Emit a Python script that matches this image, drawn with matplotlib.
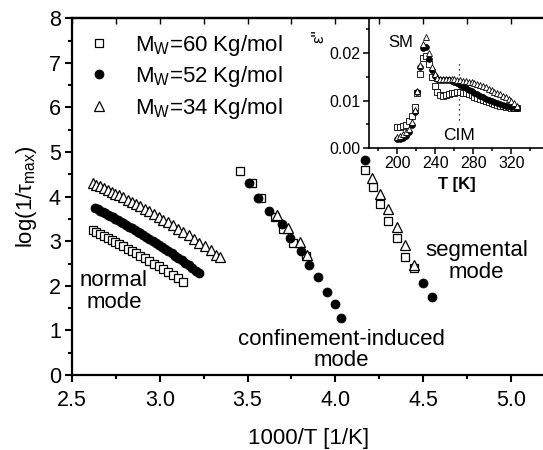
import matplotlib
matplotlib.use("Agg")
import matplotlib.pyplot as plt
from matplotlib.ticker import MultipleLocator

plt.rcParams['font.family'] = ['Liberation Sans', 'DejaVu Sans']
plt.rcParams['mathtext.fontset'] = 'custom'
plt.rcParams['mathtext.rm'] = 'Liberation Sans'
plt.rcParams['mathtext.it'] = 'Liberation Sans:italic'
plt.rcParams['mathtext.bf'] = 'Liberation Sans:bold'

# ---------------- main plot data: 1000/T [1/K] vs log(1/tau_max) ----------------
labels = [r"M$_\mathrm{W}$=60 Kg/mol", r"M$_\mathrm{W}$=52 Kg/mol", r"M$_\mathrm{W}$=34 Kg/mol"]

# normal mode
nm60_x = [2.618, 2.639, 2.660, 2.681, 2.703, 2.725, 2.747, 2.770, 2.793, 2.817, 2.841,
          2.865, 2.890, 2.915, 2.941, 2.967, 2.994, 3.021, 3.049, 3.077, 3.106, 3.135]
nm60_y = [3.250, 3.208, 3.166, 3.123, 3.078, 3.032, 2.986, 2.937, 2.888, 2.836, 2.784,
          2.730, 2.674, 2.618, 2.558, 2.498, 2.435, 2.371, 2.304, 2.236, 2.165, 2.093]
nm52_x = [2.632, 2.646, 2.660, 2.674, 2.688, 2.703, 2.717, 2.732, 2.747, 2.762, 2.778,
          2.793, 2.809, 2.825, 2.841, 2.857, 2.874, 2.890, 2.907, 2.924, 2.941, 2.959,
          2.976, 2.994, 3.012, 3.030, 3.049, 3.067, 3.086, 3.106, 3.125, 3.145, 3.165,
          3.185, 3.205, 3.226]
nm52_y = [3.740, 3.712, 3.684, 3.655, 3.627, 3.595, 3.566, 3.534, 3.502, 3.469, 3.434,
          3.401, 3.364, 3.328, 3.291, 3.254, 3.214, 3.176, 3.135, 3.094, 3.052, 3.007,
          2.964, 2.918, 2.872, 2.825, 2.775, 2.727, 2.676, 2.622, 2.570, 2.514, 2.457,
          2.401, 2.343, 2.282]
nm34_x = [2.618, 2.639, 2.660, 2.681, 2.703, 2.725, 2.747, 2.770, 2.793, 2.817, 2.841,
          2.865, 2.890, 2.915, 2.941, 2.967, 2.994, 3.021, 3.049, 3.077, 3.106, 3.135,
          3.165, 3.195, 3.226, 3.257, 3.289, 3.322, 3.344]
nm34_y = [4.300, 4.264, 4.228, 4.191, 4.151, 4.111, 4.070, 4.026, 3.981, 3.933, 3.884,
          3.834, 3.782, 3.728, 3.671, 3.612, 3.550, 3.487, 3.421, 3.353, 3.281, 3.208,
          3.130, 3.052, 2.969, 2.884, 2.795, 2.701, 2.638]

# confinement-induced mode
cim60_x = [3.457, 3.523, 3.575, 3.656, 3.703, 3.757, 3.833]
cim60_y = [4.58, 4.30, 3.96, 3.54, 3.27, 2.97, 2.67]
cim52_x = [3.510, 3.561, 3.624, 3.694, 3.741, 3.804, 3.851, 3.903, 3.950, 3.998, 4.032]
cim52_y = [4.30, 3.96, 3.68, 3.39, 3.08, 2.78, 2.47, 2.19, 1.87, 1.59, 1.27]
cim34_x = [3.669, 3.732, 3.798, 3.840]
cim34_y = [3.59, 3.29, 2.99, 2.69]

# segmental mode
seg60_x = [4.169, 4.212, 4.254, 4.301, 4.349, 4.398, 4.448]
seg60_y = [4.60, 4.21, 3.83, 3.46, 3.07, 2.65, 2.41]
seg52_x = [4.169, 4.497, 4.548]
seg52_y = [4.82, 2.06, 1.74]
seg34_x = [4.207, 4.254, 4.301, 4.349, 4.398, 4.448]
seg34_y = [4.41, 4.07, 3.72, 3.33, 2.91, 2.47]

# ---------------- inset data: T [K] vs eps'' ----------------
inset_T = [200, 203, 206, 209, 212, 215, 218, 221, 224, 227, 230, 233, 236, 239, 242,
           245, 248, 251, 254, 257, 260, 263, 266, 269, 272, 275, 278, 281, 284, 287,
           290, 293, 296, 299, 302, 305, 308, 311, 314, 317, 320, 323, 326]
eps60 = [0.0045, 0.0045, 0.0046, 0.0049, 0.0056, 0.0068, 0.0086, 0.0115, 0.0155, 0.0190,
         0.0193, 0.0176, 0.0150, 0.0130, 0.0118, 0.0112, 0.0110, 0.0111, 0.0113, 0.0115,
         0.0116, 0.0117, 0.0117, 0.0116, 0.0115, 0.0113, 0.0111, 0.0108, 0.0106, 0.0103,
         0.0101, 0.0099, 0.0097, 0.0094, 0.0092, 0.0091, 0.0089, 0.0088, 0.0087, 0.0086,
         0.0085, 0.0084, 0.0084]
eps52 = [0.0019, 0.0019, 0.0021, 0.0025, 0.0033, 0.0048, 0.0075, 0.0118, 0.0170, 0.0210,
         0.0212, 0.0188, 0.0165, 0.0152, 0.0146, 0.0144, 0.0144, 0.0144, 0.0143, 0.0141,
         0.0139, 0.0136, 0.0133, 0.0130, 0.0127, 0.0123, 0.0120, 0.0116, 0.0113, 0.0110,
         0.0107, 0.0104, 0.0101, 0.0099, 0.0096, 0.0094, 0.0092, 0.0090, 0.0089, 0.0088,
         0.0087, 0.0086, 0.0085]
eps34 = [0.0024, 0.0026, 0.0029, 0.0033, 0.0040, 0.0054, 0.0080, 0.0120, 0.0175, 0.0220,
         0.0234, 0.0200, 0.0170, 0.0155, 0.0148, 0.0146, 0.0146, 0.0146, 0.0146, 0.0145,
         0.0145, 0.0144, 0.0143, 0.0142, 0.0141, 0.0140, 0.0139, 0.0137, 0.0135, 0.0133,
         0.0130, 0.0128, 0.0125, 0.0122, 0.0119, 0.0116, 0.0113, 0.0110, 0.0107, 0.0103,
         0.0100, 0.0094, 0.0089]
cim_marker_T = 265
cim_marker_eps = (0.0059, 0.0179)

# ---------------- figure ----------------
fig = plt.figure(figsize=(5.43, 4.5), dpi=100)
W, H = 543.0, 450.0
ax = fig.add_axes([72 / W, 75 / H, 474 / W, 356.7 / H])

sq = dict(marker='s', ms=5.5, mfc='white', mec='black', mew=0.9, ls='none', zorder=3)
ci = dict(marker='o', ms=6.5, mfc='black', mec='black', mew=0.5, ls='none', zorder=5)
tr = dict(marker='^', ms=6.8, mfc='white', mec='black', mew=0.9, ls='none', zorder=4)

h60, = ax.plot(nm60_x, nm60_y, label=labels[0], **sq)
ax.plot(cim60_x, cim60_y, **sq)
ax.plot(seg60_x, seg60_y, **sq)
h52, = ax.plot(nm52_x, nm52_y, label=labels[1], **ci)
ax.plot(cim52_x, cim52_y, **ci)
ax.plot(seg52_x, seg52_y, **ci)
h34, = ax.plot(nm34_x, nm34_y, label=labels[2], **tr)
ax.plot(cim34_x, cim34_y, **tr)
ax.plot(seg34_x, seg34_y, **tr)

ax.set_xlim(2.5, 5.2)
ax.set_ylim(0, 8)
ax.xaxis.set_minor_locator(MultipleLocator(0.25))
ax.yaxis.set_major_locator(MultipleLocator(1))
ax.yaxis.set_minor_locator(MultipleLocator(0.5))
ax.set_xticks([2.5, 3.0, 3.5, 4.0, 4.5, 5.0])
ax.set_xticklabels(['2.5', '3.0', '3.5', '4.0', '4.5', '5.0'])
ax.tick_params(which='major', direction='out', length=5, width=1.5, labelsize=15.5, pad=3)
ax.tick_params(axis='x', which='major', pad=6)
ax.tick_params(which='minor', direction='out', length=3, width=1.5)
for s in ax.spines.values():
    s.set_linewidth(1.6)
ax.spines['right'].set_visible(False)
ax.set_xlabel('1000/T [1/K]', fontsize=16, labelpad=12)
ax.set_ylabel('log(1/τ$_\\mathrm{max}$)', fontsize=16, labelpad=7)

ax.legend(handles=[h60, h52, h34], loc='upper left', bbox_to_anchor=(0.033, 0.96),
          frameon=False, fontsize=16, handlelength=1.0, handletextpad=1.15,
          labelspacing=0.3, borderpad=0, borderaxespad=0, numpoints=1)

ax.text(2.739, 1.87, 'normal\nmode', fontsize=16, ha='center', va='center', linespacing=1.05)
ax.text(4.035, 0.56, 'confinement-induced\nmode', fontsize=16, ha='center', va='center', linespacing=1.05)
ax.text(4.805, 2.545, 'segmental\nmode', fontsize=16, ha='center', va='center', linespacing=1.05)

# ---------------- inset ----------------
axi = fig.add_axes([369 / W, (H - 148) / H, 176 / W, 130 / H])
axi.set_facecolor('white')
axi.plot(inset_T, eps60, marker='s', ms=3.8, mfc='white', mec='black', mew=0.6, ls='none', zorder=3)
axi.plot(inset_T, eps52, marker='o', ms=4.2, mfc='black', mec='black', mew=0.5, ls='none', zorder=4)
axi.plot(inset_T, eps34, marker='^', ms=4.6, mfc='white', mec='black', mew=0.6, ls='none', zorder=5)
axi.vlines(cim_marker_T, cim_marker_eps[0], cim_marker_eps[1], colors='black',
           linestyles=(0, (1, 3)), linewidth=0.9)
axi.set_xlim(170, 355.3)
axi.set_ylim(0, 0.0274)
axi.set_xticks([200, 240, 280, 320])
axi.xaxis.set_minor_locator(MultipleLocator(20))
axi.set_yticks([0.0, 0.01, 0.02])
axi.set_yticklabels(['0.00', '0.01', '0.02'])
axi.yaxis.set_minor_locator(MultipleLocator(0.005))
axi.tick_params(which='major', direction='out', length=4, width=1.1, labelsize=11.5, pad=2)
axi.tick_params(which='minor', direction='out', length=2, width=1.1)
for s in axi.spines.values():
    s.set_linewidth(1.2)
axi.set_xlabel('T [K]', fontsize=12, fontweight='bold', labelpad=4)
axi.set_ylabel("ε''", fontsize=12)
axi.yaxis.set_label_coords(-0.24, 0.86)
axi.text(203, 0.0223, 'SM', fontsize=12, ha='center', va='center')
axi.text(265, 0.0027, 'CIM', fontsize=12.5, ha='center', va='center')

# inward ticks on the main top axis, drawn above the inset
axt = fig.add_axes(ax.get_position().bounds, facecolor='none', zorder=10)
axt.set_xlim(2.5, 5.2)
axt.set_ylim(0, 8)
for k in ['left', 'right', 'bottom']:
    axt.spines[k].set_visible(False)
axt.spines['top'].set_linewidth(1.6)
axt.xaxis.set_ticks_position('top')
axt.set_xticks([2.5, 2.75, 3.0, 3.25, 3.5, 3.75, 4.0, 4.25, 4.5, 4.75, 5.0])
axt.tick_params(axis='x', direction='in', length=4, width=1.0, labeltop=False, labelbottom=False)
axt.set_yticks([])

fig.savefig('out.png', dpi=100)
